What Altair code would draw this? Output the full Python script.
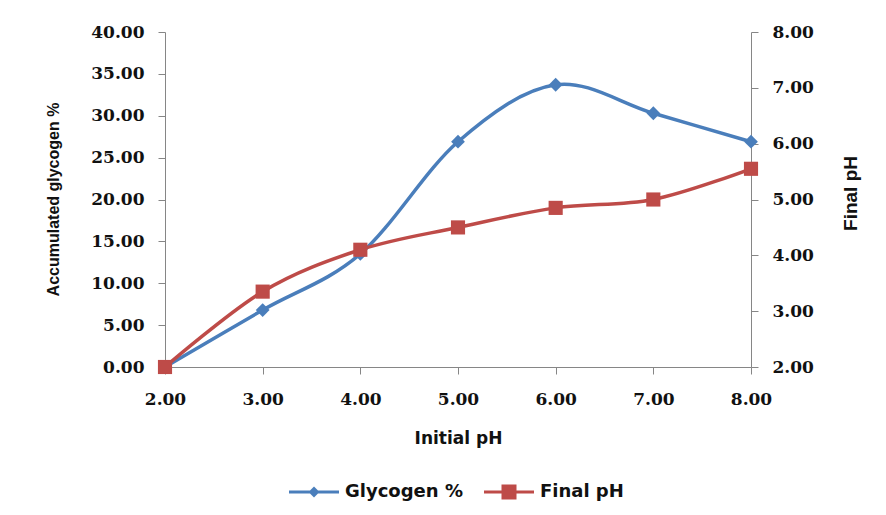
import altair as alt
import pandas as pd

initial_ph = [2.0, 3.0, 4.0, 5.0, 6.0, 7.0, 8.0]
glycogen = [0.0, 6.8, 13.5, 26.9, 33.7, 30.3, 26.9]
final_ph = [2.0, 3.35, 4.1, 4.5, 4.85, 5.0, 5.55]
series_names = ["Glycogen %", "Final pH"]
x_ticks = [2, 3, 4, 5, 6, 7, 8]
left_ticks = [0, 5, 10, 15, 20, 25, 30, 35, 40]
right_ticks = [2, 3, 4, 5, 6, 7, 8]

BLUE = "#4a7ebb"
RED = "#be4b48"
GREY = "#868686"

df = pd.DataFrame({"x": initial_ph, "gly": glycogen, "fph": final_ph})
df["s_gly"] = series_names[0]
df["s_fph"] = series_names[1]

tick_font = dict(labelFont="DejaVu Serif", labelFontSize=17, labelFontWeight="bold",
                 labelColor="#111111", domainColor=GREY, tickColor=GREY,
                 tickSize=7, grid=False, labelFlush=False, labelOverlap=False)

xenc = alt.X("x:Q", scale=alt.Scale(domain=[2, 8], nice=False, zero=False),
             axis=alt.Axis(values=x_ticks, format=".2f", title="Initial pH",
                           titleFont="DejaVu Sans", titleFontSize=17, titleFontWeight="bold",
                           titleColor="#111111", titleX=293, titleY=71,
                           titleBaseline="middle", titleAlign="center",
                           labelPadding=17, **tick_font))

path_gly = ("M-5,-0.3L-0.8,-0.3L0,-1.1L0.8,-0.3L5,-0.3L5,0.3L0.8,0.3L0,1.1"
            "L-0.8,0.3L-5,0.3Z")
path_fph = ("M-5,-0.3L-1.5,-0.3L-1.5,-1.5L1.5,-1.5L1.5,-0.3L5,-0.3L5,0.3L1.5,0.3"
            "L1.5,1.5L-1.5,1.5L-1.5,0.3L-5,0.3Z")
sym_expr = "datum.value == 'Glycogen %' ? '" + path_gly + "' : '" + path_fph + "'"

color_enc = lambda field: alt.Color(
    field + ":N",
    scale=alt.Scale(domain=series_names, range=[BLUE, RED]),
    legend=alt.Legend(title=None, orient="none", legendX=140, legendY=451,
                      direction="horizontal", symbolSize=100,
                      symbolType=alt.ExprRef(expr=sym_expr),
                      symbolStrokeWidth=0, symbolOpacity=1,
                      labelOffset=22, columnPadding=21,
                      labelFont="DejaVu Sans", labelFontSize=18,
                      labelFontWeight="bold", labelColor="#111111"),
)

yl = alt.Y("gly:Q", scale=alt.Scale(domain=[0, 40], nice=False),
           axis=alt.Axis(values=left_ticks, format=".2f", orient="left",
                         title="Accumulated glycogen %", titleFont="Liberation Sans",
                         titleFontSize=16, titleFontWeight="bold", titleColor="#111111",
                         titleAngle=270, titleX=-112, titleY=167, titleBaseline="middle",
                         titleAlign="center", labelPadding=14, **tick_font))
yr = alt.Y("fph:Q", scale=alt.Scale(domain=[2, 8], nice=False, zero=False),
           axis=alt.Axis(values=right_ticks, format=".2f", orient="right",
                         title="Final pH", titleFont="Liberation Sans",
                         titleFontSize=19, titleFontWeight="bold", titleColor="#111111",
                         titleAngle=270, titleX=99, titleY=161, titleBaseline="middle",
                         titleAlign="center", labelPadding=14, **tick_font))

base = alt.Chart(df)

gly_line = base.mark_line(color=BLUE, strokeWidth=3.5, interpolate="cardinal", tension=0).encode(x=xenc, y=yl)
gly_pts = base.mark_point(shape="diamond", filled=True, size=190, opacity=1, strokeWidth=0).encode(
    x=xenc, y=yl, color=color_enc("s_gly"))
left = alt.layer(gly_line, gly_pts)

fph_line = base.mark_line(color=RED, strokeWidth=3.5, interpolate="cardinal", tension=0).encode(x=xenc, y=yr)
fph_pts = base.mark_point(shape="square", filled=True, size=200, opacity=1, strokeWidth=0).encode(
    x=xenc, y=yr, color=color_enc("s_fph"))
right = alt.layer(fph_line, fph_pts)

chart = alt.layer(left, right).resolve_scale(y="independent").properties(
    width=586, height=335,
    autosize=alt.AutoSizeParams(type="none"),
    padding={"left": 165, "top": 32, "right": 135, "bottom": 148},
    background="white",
).configure_view(stroke=None)

chart.save("out.html", embed_options={"renderer": "svg", "actions": False})
